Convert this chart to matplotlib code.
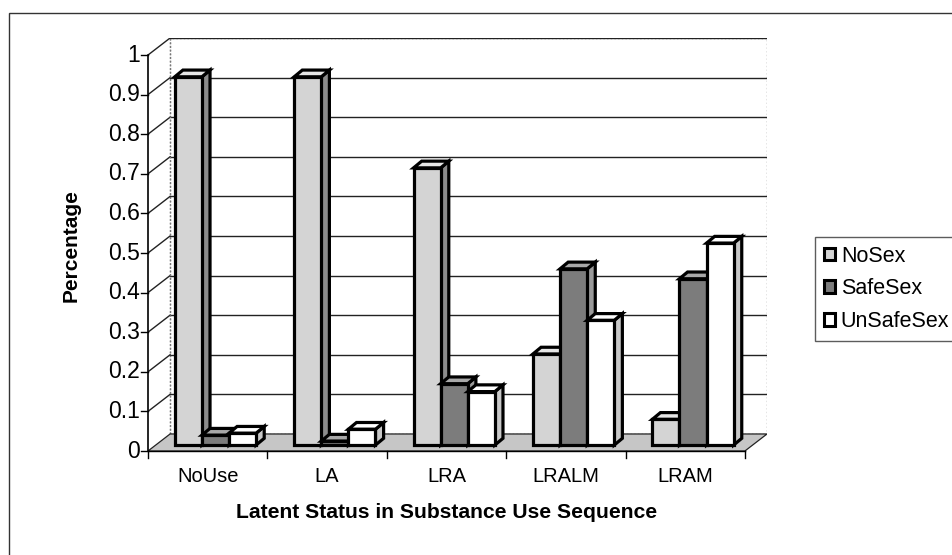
import matplotlib.pyplot as plt
from matplotlib.patches import Polygon, Patch, Rectangle
import numpy as np

plt.rcParams["font.family"] = ["Liberation Sans", "DejaVu Sans"]

categories = ["NoUse", "LA", "LRA", "LRALM", "LRAM"]
series_names = ["NoSex", "SafeSex", "UnSafeSex"]
no_sex = [0.93, 0.93, 0.70, 0.23, 0.065]
safe_sex = [0.025, 0.01, 0.155, 0.445, 0.42]
unsafe_sex = [0.03, 0.04, 0.135, 0.315, 0.51]
y_ticks = [0, 0.1, 0.2, 0.3, 0.4, 0.5, 0.6, 0.7, 0.8, 0.9, 1]

# front, side, top colours per series
face_colors = [("#d4d4d4", "#8c8c8c", "#e6e6e6"),
               ("#7c7c7c", "#9a9a9a", "#a8a8a8"),
               ("#ffffff", "#c8c8c8", "#ffffff")]

W, H = 953, 555
fig = plt.figure(figsize=(W / 100, H / 100), dpi=100)

# outer chart frame
fig.patches.append(Rectangle((9 / W, -0.1), 1.2, 1 - 13 / H + 0.1, transform=fig.transFigure,
                             fill=False, edgecolor="#333333", linewidth=1.0))

ax = fig.add_axes([148 / W, 104 / H, (767 - 148) / W, (451 - 38) / H])
ax.set_xlim(-0.5, 4.685)
ax.set_ylim(0, 1.043)
ax.axis("off")

DX, DY = 0.185, 0.043      # full depth of the plot box
FX, FY = 0.065, 0.015      # where the bar fronts sit in depth
BX, BY = 0.068, 0.017      # depth of each bar
bw = 0.227
x0, x1 = -0.5, 4.5

# back wall
ax.add_patch(Polygon([(x0 + DX, DY), (x1 + DX, DY), (x1 + DX, 1 + DY), (x0 + DX, 1 + DY)],
                     closed=True, facecolor="white", edgecolor="#777777", linestyle=":",
                     linewidth=1.0, zorder=1))
for v in y_ticks[1:]:
    ax.plot([x0 + DX, x1 + DX], [v + DY, v + DY], color="#222222", linewidth=1.0, zorder=2)
    ax.plot([x0, x0 + DX], [v, v + DY], color="#222222", linewidth=1.0, zorder=2)
ax.plot([x0 + DX, x0 + DX], [DY, 1 + DY], color="#777777", linestyle=":", linewidth=1.0, zorder=2)

# floor
ax.add_patch(Polygon([(x0, 0), (x1, 0), (x1 + DX, DY), (x0 + DX, DY)], closed=True,
                     facecolor="#c6c6c6", edgecolor="#222222", linewidth=0.9, zorder=2))

# y axis and ticks
ax.plot([x0, x0], [0, 1], color="black", linewidth=1.2, zorder=3, clip_on=False)
for v in y_ticks:
    ax.plot([x0 - 0.055, x0], [v, v], color="black", linewidth=1.0, clip_on=False)
    ax.text(x0 - 0.07, v, f"{v:g}", ha="right", va="center", fontsize=16.5)

# x axis and ticks
ax.plot([x0, x1], [0, 0], color="black", linewidth=1.0, zorder=3, clip_on=False)
for k in range(len(categories) + 1):
    ax.plot([x0 + k, x0 + k], [0, -0.017], color="black", linewidth=1.0, clip_on=False)
for k, name in enumerate(categories):
    ax.text(k, -0.064, name, ha="center", va="center", fontsize=14.5)

ax.text(x0 - 0.64, 0.52, "Percentage", rotation=90, ha="center", va="center",
        fontsize=15, fontweight="bold")
ax.text(2.0, -0.155, "Latent Status in Substance Use Sequence", ha="center", va="center",
        fontsize=15.2, fontweight="bold")

# 3D looking bars
values = [no_sex, safe_sex, unsafe_sex]
lw = 2.3
z = 5
for i in range(len(categories)):
    for s in range(3):
        h = values[s][i]
        left = i - 1.5 * bw + s * bw + FX
        front, side, top = face_colors[s]
        ax.add_patch(Polygon([(left + bw, FY), (left + bw + BX, FY + BY),
                              (left + bw + BX, FY + h + BY), (left + bw, FY + h)],
                             closed=True, facecolor=side, edgecolor="black", linewidth=lw,
                             joinstyle="miter", zorder=z))
        ax.add_patch(Polygon([(left, FY + h), (left + bw, FY + h), (left + bw + BX, FY + h + BY),
                              (left + BX, FY + h + BY)],
                             closed=True, facecolor=top, edgecolor="black", linewidth=lw,
                             joinstyle="miter", zorder=z))
        ax.bar(left, h, width=bw, bottom=FY, align="edge", color=front, edgecolor="black",
               linewidth=lw, zorder=z + 0.5)
        z += 1

handles = [Patch(facecolor=face_colors[s][0], edgecolor="black", linewidth=2.2) for s in range(3)]
fig.legend(handles, series_names, loc="upper left", bbox_to_anchor=(815 / W, 1 - 237 / H),
           frameon=True, fancybox=False, edgecolor="#333333", fontsize=15.5,
           handlelength=0.55, handleheight=0.55, handletextpad=0.25, labelspacing=0.55,
           borderpad=0.4, borderaxespad=0)

fig.savefig("out.png", dpi=100)
